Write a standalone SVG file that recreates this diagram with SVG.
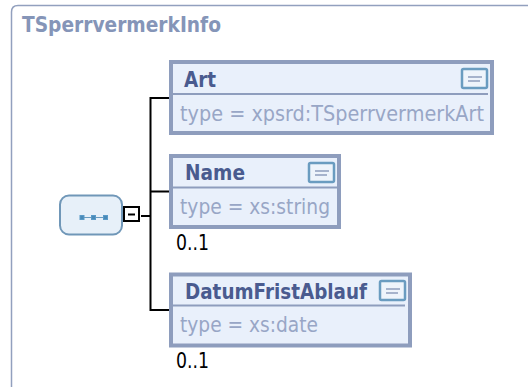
<svg xmlns="http://www.w3.org/2000/svg" width="528" height="387" viewBox="0 0 528 387">
<style>
text{font-family:"DejaVu Sans","Noto Sans",sans-serif}
.box{fill:#e9f0fb;stroke:#8e9dbd;stroke-width:4}
.div{stroke:#8e9dbd;stroke-width:2;fill:none}
.nm{font-size:22px;font-weight:700;fill:#4a5b8f}
.ty{font-size:21.500px;fill:#98a6c6}
.occ{font-size:22px;fill:#000}
.ic{fill:#eef4fb;stroke:#6a9cc0;stroke-width:2.500}
.icl{stroke:#8e9dbd;stroke-width:1.500;fill:none}
.con{stroke:#000;stroke-width:2;fill:none}
.dot{fill:#4a8ab8;stroke:#5a9ac8}
</style>
<g id="frame">
<path d="M528 5.500H18Q11.500 5.500 11.500 12V387" fill="none" stroke="#92a0be" stroke-width="1.500"/>
<text x="22" y="32" font-size="21" font-weight="700" fill="#8595b8" textLength="199" lengthAdjust="spacingAndGlyphs">TSperrvermerkInfo</text>
</g>
<g id="connectors">
<path class="con" d="M169 98H150.500V310H169M150.500 191.500H169M141 216H150.500"/>
</g>
<g id="sequence">
<rect x="60" y="195.500" width="62" height="39" rx="9" fill="#e7f0f9" stroke="#7097b8" stroke-width="2"/>
<path d="M82 217.500H106" stroke="#6a9cc0" stroke-width="1"/>
<rect class="dot" x="80" y="215.500" width="4" height="4"/>
<rect class="dot" x="91.500" y="215.500" width="4" height="4"/>
<rect class="dot" x="103.500" y="215.500" width="4" height="4"/>
</g>
<g id="collapse">
<rect x="124" y="207" width="15" height="14" fill="#fff" stroke="#000" stroke-width="2"/>
<path d="M128 214.500H135" stroke="#000" stroke-width="2"/>
</g>
<g id="node-art">
<rect class="box" x="171" y="62" width="321" height="71"/>
<path class="div" d="M172 94H488"/>
<text class="nm" x="184" y="87" textLength="32" lengthAdjust="spacingAndGlyphs">Art</text>
<text class="ty" x="180" y="121" textLength="304" lengthAdjust="spacingAndGlyphs">type = xpsrd:TSperrvermerkArt</text>
<rect class="ic" x="462" y="69" width="25" height="19" rx="1.500"/>
<path class="icl" d="M468 77H482M468 81H480"/>
</g>
<g id="node-name">
<rect class="box" x="171" y="156" width="168" height="71"/>
<path class="div" d="M172 187.500H337"/>
<text class="nm" x="185" y="180" textLength="60" lengthAdjust="spacingAndGlyphs">Name</text>
<text class="ty" x="180" y="214" textLength="150" lengthAdjust="spacingAndGlyphs">type = xs:string</text>
<rect class="ic" x="309" y="163" width="25" height="19" rx="1.500"/>
<path class="icl" d="M315 171H329M315 175H327"/>
<text class="occ" x="176" y="250" textLength="33" lengthAdjust="spacingAndGlyphs">0..1</text>
</g>
<g id="node-datum">
<rect class="box" x="171" y="274.500" width="239" height="71"/>
<path class="div" d="M172 305.500H405"/>
<text class="nm" x="185" y="299" textLength="182" lengthAdjust="spacingAndGlyphs">DatumFristAblauf</text>
<text class="ty" x="180" y="332" textLength="138" lengthAdjust="spacingAndGlyphs">type = xs:date</text>
<rect class="ic" x="380" y="281" width="25" height="19" rx="1.500"/>
<path class="icl" d="M386 289H400M386 293H398"/>
<text class="occ" x="176" y="368" textLength="33" lengthAdjust="spacingAndGlyphs">0..1</text>
</g>
</svg>
